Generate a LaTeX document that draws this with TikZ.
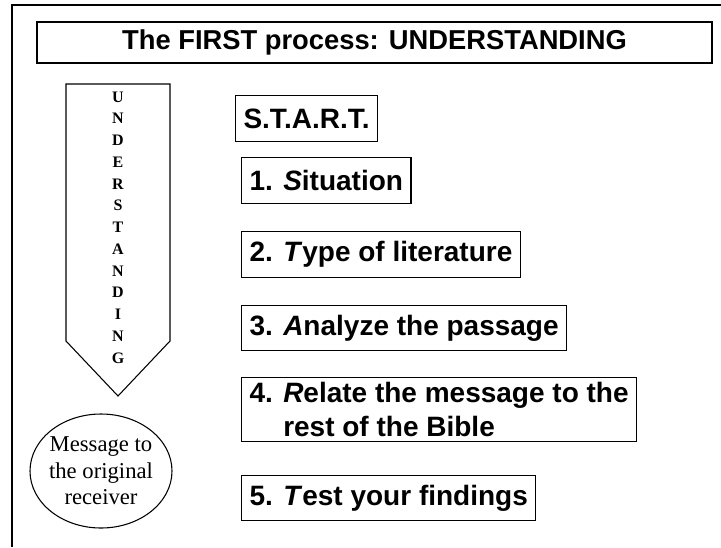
\documentclass[tikz,border=0pt]{standalone}
\usepackage{fontspec}
\setmainfont{Liberation Serif}
\setsansfont{Liberation Sans}
\usetikzlibrary{positioning,shapes.geometric}

\begin{document}
\begin{tikzpicture}[
        x=0.75pt, y=-0.75pt,
        frame/.style={black, line width=0.8pt},
        title/.style={draw=black, line width=0.8pt, minimum width=506.25pt,
            minimum height=30.75pt, inner sep=0pt,
            font=\sffamily\bfseries\fontsize{20.5}{24}\selectfont},
        stepbox/.style={draw=black, line width=0.8pt, anchor=west,
            inner xsep=6pt, minimum height=34pt, align=left,
            font=\sffamily\bfseries\fontsize{21}{26}\selectfont},
        letter/.style={inner sep=0pt,
            font=\bfseries\fontsize{12}{14}\selectfont},
        receiver/.style={draw=black, ellipse, line width=0.8pt, inner sep=-8pt,
            minimum width=106.5pt, minimum height=85.5pt, align=center,
            font=\fontsize{17}{20}\selectfont},
    ]
    \useasboundingbox (0,0) rectangle (721,547);
    % frame
    \draw[frame] (721,5) -- (12,5) -- (12,547);
    % title
    \node[title] (title) at (374.5,42.5) {The FIRST process: UNDERSTANDING};
    % down arrow with the word
    \draw[frame] (66,84) -- (170,84) -- (170,341) -- (118,396) -- (66,341) -- cycle;
    \foreach \l [count=\i from 0] in {U,N,D,E,R,S,T,A,N,D,I,N,G}
        \node[letter] (let\i) at (118,97+\i*21.75) {\l};
    \node[receiver] (msg) at (101,471) {Message to\\the original\\receiver};
    % steps
    \node[stepbox] (start) at (235,118.5) {S.T.A.R.T.};
    \node[stepbox] (s1) at (241,180.5) {1. \textit{S}ituation};
    \node[stepbox] (s2) at (241,254.5) {2. \textit{T}ype of literature};
    \node[stepbox] (s3) at (241,328) {3. \textit{A}nalyze the passage};
    \node[stepbox] (s4) at (241,409.5) {4. \textit{R}elate the message to the\\\phantom{4. }rest of the Bible};
    \node[stepbox] (s5) at (241,498) {5. \textit{T}est your findings};
\end{tikzpicture}
\end{document}
